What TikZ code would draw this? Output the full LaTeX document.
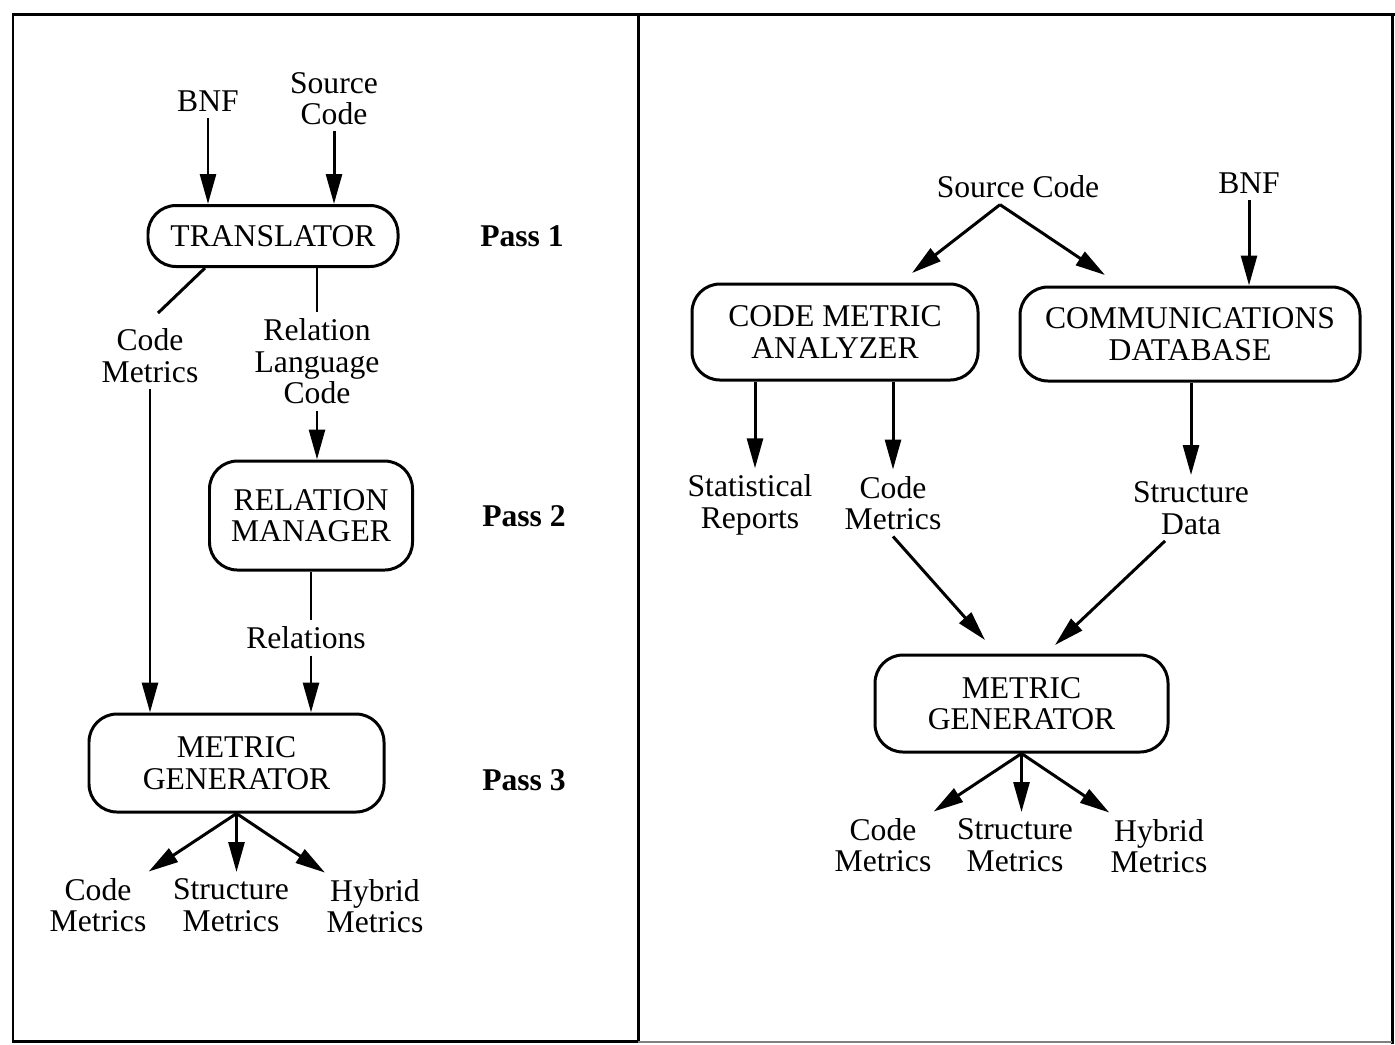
\documentclass[tikz,border=0pt]{standalone}
\usepackage{fontspec}
\setmainfont{Liberation Serif}
\usetikzlibrary{arrows.meta}

\begin{document}
\begin{tikzpicture}[
  font=\fontsize{9}{9}\selectfont,
  line width=0.85pt,
  box/.style={draw, rounded corners=0.28cm, align=center, inner sep=0pt},
  lbl/.style={align=center, inner sep=0.05cm},
  pass/.style={font=\fontsize{9}{9}\selectfont\bfseries},
  flow/.style={-{Triangle[length=8.5pt,width=4.5pt]}}
]
\useasboundingbox (0,0) rectangle (13.95,-10.44);

% frame
\draw (0.13,-0.14) rectangle (6.38,-10.41);
\draw (6.38,-0.14) -- (13.95,-0.14);
\draw (13.92,-0.14) -- (13.92,-10.44);
\draw [gray, line width=0.4pt] (6.38,-10.42) -- (13.92,-10.42);

% left panel
\node[lbl] (bnf) at (2.08,-1.01) {BNF};
\node[lbl] (src) at (3.34,-0.985) {Source\\Code};
\node[box, minimum width=2.50cm, minimum height=0.61cm] (trans) at (2.73,-2.36) {TRANSLATOR};
\node[pass] (p1) at (5.22,-2.36) {Pass 1};
\draw [flow] (bnf) -- (bnf |- trans.north);
\draw [flow] (src) -- (src |- trans.north);

\node[lbl] (lcm) at (1.50,-3.555) {Code\\Metrics};
\node[lbl] (rlc) at (3.17,-3.615) {Relation\\Language\\Code};
\coordinate (cmtip) at (1.58,-3.13);
\draw ([xshift=-0.68cm]trans.south) -- (cmtip);
\draw (rlc.north |- trans.south) -- (rlc.north);

\node[box, minimum width=2.03cm, minimum height=1.09cm] (relmgr) at (3.11,-5.155) {RELATION\\MANAGER};
\node[pass] (p2) at (5.24,-5.16) {Pass 2};
\draw [flow] (rlc.south) -- (rlc.south |- relmgr.north);

\node[lbl] (rel) at (3.06,-6.38) {Relations};
\node[box, minimum width=2.95cm, minimum height=0.98cm] (lmg) at (2.365,-7.63) {METRIC\\GENERATOR};
\node[pass] (p3) at (5.24,-7.80) {Pass 3};
\draw (relmgr.south) -- (relmgr.south |- rel.north);
\draw [flow] (relmgr.south |- rel.south) -- (relmgr.south |- lmg.north);
\draw [flow] (lcm.south) -- (lcm.south |- lmg.north);

\node[lbl] (lcode) at (0.98,-9.05) {Code\\Metrics};
\node[lbl] (lstruct) at (2.31,-9.05) {Structure\\Metrics};
\node[lbl] (lhyb) at (3.75,-9.06) {Hybrid\\Metrics};
\draw [flow] (lmg.south) -- (lcode);
\draw [flow] (lmg.south) -- (lmg.south |- lstruct.north);
\draw [flow] (lmg.south) -- (lhyb);

% right panel
\node[lbl] (sc) at (10.18,-1.87) {Source Code};
\node[lbl] (bnfr) at (12.49,-1.83) {BNF};
\node[box, minimum width=2.86cm, minimum height=0.96cm] (cma) at (8.35,-3.32) {CODE METRIC\\ANALYZER};
\node[box, minimum width=3.40cm, minimum height=0.94cm] (cdb) at (11.90,-3.34) {COMMUNICATIONS\\DATABASE};
\coordinate (scfork) at ([xshift=-0.18cm]sc.south);
\coordinate (cmain) at (9.12,-2.73);
\coordinate (cdbin) at (11.05,-2.75);
\draw [flow] (scfork) -- (cmain);
\draw [flow] (scfork) -- (cdbin);
\draw [flow] (bnfr) -- (bnfr |- cdb.north);

\node[lbl] (stat) at (7.50,-5.05) {Statistical\\Reports};
\node[lbl] (rcm) at (8.93,-5.03) {Code\\Metrics};
\node[lbl] (sd) at (11.91,-5.08) {Structure\\Data};
\draw [flow] ([xshift=0.05cm]stat.north |- cma.south) -- ([xshift=0.05cm]stat.north);
\draw [flow] (rcm.north |- cma.south) -- (rcm.north);
\draw [flow] (sd.north |- cdb.south) -- (sd.north);

\node[box, minimum width=2.93cm, minimum height=0.97cm] (rmg) at (10.215,-7.035) {METRIC\\GENERATOR};
\coordinate (rmgl) at (9.85,-6.40);
\coordinate (rmgr) at (10.55,-6.45);
\draw [flow] (rcm.south) -- (rmgl);
\draw [flow] ([xshift=-0.26cm]sd.south) -- (rmgr);

\node[lbl] (rcode) at (8.83,-8.45) {Code\\Metrics};
\node[lbl] (rstruct) at (10.15,-8.45) {Structure\\Metrics};
\node[lbl] (rhyb) at (11.59,-8.46) {Hybrid\\Metrics};
\draw [flow] (rmg.south) -- (rcode);
\draw [flow] (rmg.south) -- (rmg.south |- rstruct.north);
\draw [flow] (rmg.south) -- (rhyb);
\end{tikzpicture}
\end{document}
